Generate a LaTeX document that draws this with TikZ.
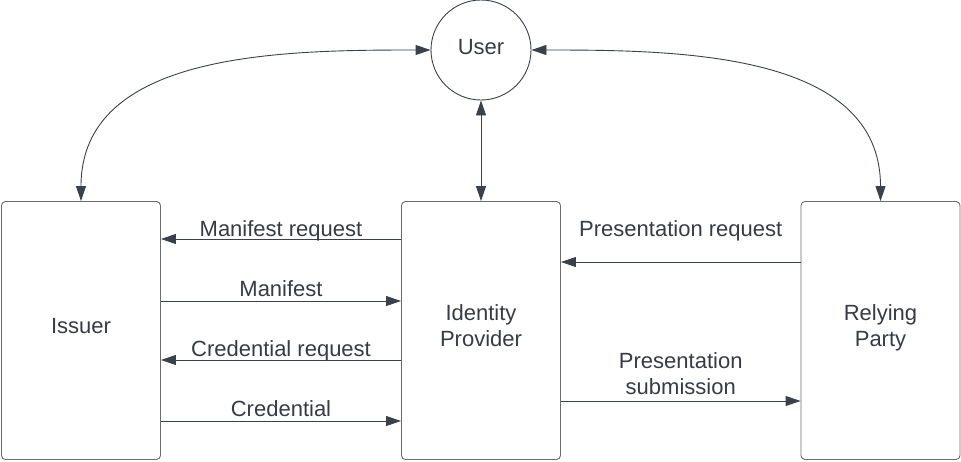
\documentclass[tikz,border=0pt]{standalone}
\usepackage{fontspec}
\setmainfont{Liberation Sans}
\usepackage{xcolor}
\definecolor{linegray}{HTML}{3A414A}
\definecolor{boxgray}{HTML}{6B6B6B}
\definecolor{textgray}{HTML}{363B44}
\usetikzlibrary{positioning,arrows.meta,calc}
\tikzset{
  party/.style={draw=boxgray,line width=0.9pt,rounded corners=4pt,minimum width=159pt,minimum height=258pt,inner sep=0pt,align=center,text depth=9pt},
  flow/.style={draw=linegray,line width=0.9pt,-{Triangle[length=15pt,width=10pt]}},
  both/.style={flow,{Triangle[length=15pt,width=10pt]}-{Triangle[length=15pt,width=10pt]}},
  msg/.style={anchor=base,inner sep=0pt,text=textgray}
}

\begin{document}
\begin{tikzpicture}[x=1pt,y=-1pt,font=\fontsize{22}{26}\selectfont,text=textgray]
  \useasboundingbox (0,0) rectangle (961,461);
  % parties
  \node[circle,draw=linegray,line width=0.9pt,minimum size=100pt,inner sep=0pt,text depth=6pt] (user) at (481,50) {User};
  \node[party] (issuer) at (81,330.5) {Issuer};
  \node[party] (idp) at (481,330.5) {Identity\\Provider};
  \node[party] (rp) at (880.5,330.5) {Relying\\Party};
  % user links
  \draw[both] (issuer.north) to[out=90,in=180] (user.west);
  \draw[both] (rp.north) to[out=90,in=0] (user.east);
  \draw[both] (user.south) -- (idp.north);
  % issuer <-> identity provider
  \draw[flow] (idp.west |- 0,239) -- node[msg,yshift=3pt] {Manifest request} (issuer.east |- 0,239);
  \draw[flow] (issuer.east |- 0,301) -- node[msg,yshift=5pt] {Manifest} (idp.west |- 0,301);
  \draw[flow] (idp.west |- 0,360) -- node[msg,yshift=4pt] {Credential request} (issuer.east |- 0,360);
  \draw[flow] (issuer.east |- 0,421) -- node[msg,yshift=5pt] {Credential} (idp.west |- 0,421);
  % identity provider <-> relying party
  \draw[flow] (rp.west |- 0,262) -- node[msg,yshift=26pt] {Presentation request} (idp.east |- 0,262);
  \draw[flow] (idp.east |- 0,401) -- node[msg,align=center,yshift=7pt] {Presentation\\submission} (rp.west |- 0,401);
\end{tikzpicture}
\end{document}
